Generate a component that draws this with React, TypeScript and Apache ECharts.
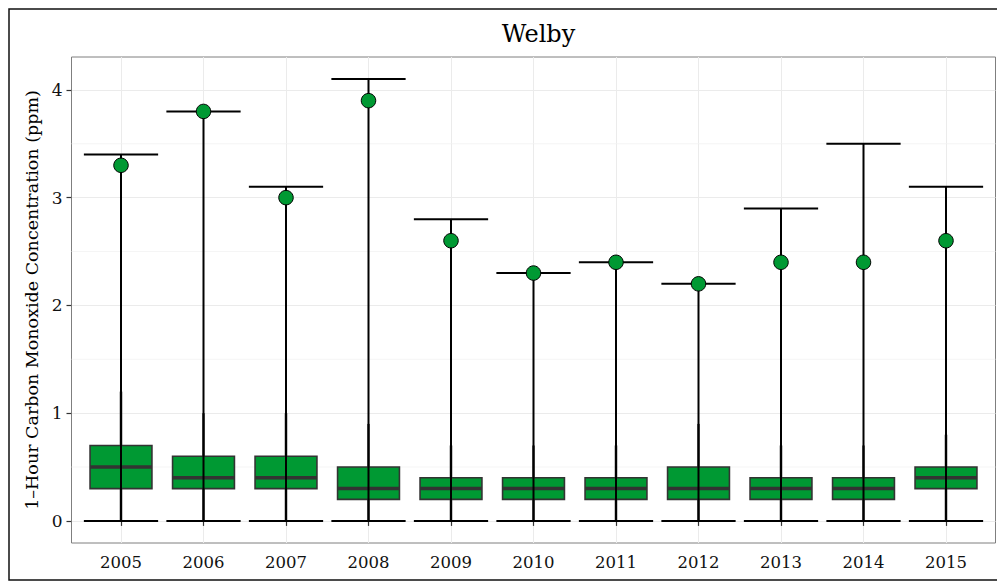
import React, { useEffect, useRef } from "react";
import * as echarts from "echarts";

const years = ["2005", "2006", "2007", "2008", "2009", "2010", "2011", "2012", "2013", "2014", "2015"];
const q1 = [0.3, 0.3, 0.3, 0.2, 0.2, 0.2, 0.2, 0.2, 0.2, 0.2, 0.3];
const medians = [0.5, 0.4, 0.4, 0.3, 0.3, 0.3, 0.3, 0.3, 0.3, 0.3, 0.4];
const q3 = [0.7, 0.6, 0.6, 0.5, 0.4, 0.4, 0.4, 0.5, 0.4, 0.4, 0.5];
const whiskerLow = [0, 0, 0, 0, 0, 0, 0, 0, 0, 0, 0];
const whiskerHigh = [1.2, 1.0, 1.0, 0.9, 0.7, 0.7, 0.7, 0.9, 0.7, 0.7, 0.8];
const minValues = [0, 0, 0, 0, 0, 0, 0, 0, 0, 0, 0];
const maxValues = [3.4, 3.8, 3.1, 4.1, 2.8, 2.3, 2.4, 2.2, 2.9, 3.5, 3.1];
const designValues = [3.3, 3.8, 3.0, 3.9, 2.6, 2.3, 2.4, 2.2, 2.4, 2.4, 2.6];
const yTicks = [0, 1, 2, 3, 4];
const yMinorTicks = [0.5, 1.5, 2.5, 3.5];

const FONT = "DejaVu Serif";
const GREEN = "#009933";

export default function App() {
  const ref = useRef<HTMLDivElement>(null);

  useEffect(() => {
    if (!ref.current) return;
    const chart = echarts.init(ref.current, null, { renderer: "svg" });
    const xPos = years.map((_, i) => i + 1);
    const xMin = 0.4;
    const xMax = years.length + 0.6;

    const boxData = years.map((_, i) => [
      i + 1,
      q1[i],
      medians[i],
      q3[i],
      whiskerLow[i],
      whiskerHigh[i],
      minValues[i],
      maxValues[i],
    ]);

    const option: any = {
      animation: false,
      title: {
        text: "Welby",
        left: 533.5,
        top: 17,
        textAlign: "center",
        textStyle: { fontFamily: FONT, fontSize: 24, fontWeight: "normal", color: "#000" },
      },
      grid: {
        left: 71.5,
        top: 57,
        width: 924,
        height: 486,
        show: true,
        borderColor: "#7f7f7f",
        borderWidth: 1,
        backgroundColor: "#fff",
      },
      xAxis: {
        type: "value",
        min: xMin,
        max: xMax,
        axisLine: { show: false },
        axisTick: {
          show: true,
          customValues: xPos,
          length: 5,
          lineStyle: { color: "#333", width: 1.2 },
        },
        axisLabel: {
          customValues: xPos,
          formatter: (v: number) => years[Math.round(v) - 1] ?? "",
          margin: 11,
          fontFamily: FONT,
          fontSize: 16.5,
          color: "#111",
        },
        splitLine: { show: true, lineStyle: { color: "#ebebeb", width: 1 } },
      },
      yAxis: {
        type: "value",
        min: -0.205,
        max: 4.305,
        name: "1–Hour Carbon Monoxide Concentration (ppm)",
        nameLocation: "middle",
        nameGap: 30,
        nameRotate: 90,
        nameTextStyle: { fontFamily: FONT, fontSize: 17.5, color: "#000" },
        axisLine: { show: false },
        axisTick: {
          show: true,
          customValues: yTicks,
          length: 5,
          lineStyle: { color: "#333", width: 1.2 },
        },
        axisLabel: {
          customValues: yTicks,
          margin: 9,
          fontFamily: FONT,
          fontSize: 17,
          color: "#111",
        },
        splitLine: { show: true, lineStyle: { color: "#ebebeb", width: 1 } },
      },
      graphic: [
        {
          type: "rect",
          shape: { x: 9, y: 9, width: 1000, height: 571 },
          style: { fill: "none", stroke: "#111", lineWidth: 1.5 },
          silent: true,
          z: 100,
        },
      ],
      series: [
        {
          type: "custom",
          name: "minor grid",
          silent: true,
          z: 1,
          data: yMinorTicks.map((v) => [v]),
          renderItem: (params: any, api: any) => {
            const v = api.value(0);
            const a = api.coord([xMin, v]);
            const b = api.coord([xMax, v]);
            return {
              type: "line",
              shape: { x1: a[0], y1: a[1], x2: b[0], y2: b[1] },
              style: { stroke: "#f3f3f3", lineWidth: 0.8 },
            };
          },
        },
        {
          type: "custom",
          name: "boxes",
          z: 2,
          data: boxData,
          renderItem: (params: any, api: any) => {
            const x = api.value(0);
            const unit = api.size([1, 0])[0];
            const c = (y: number) => api.coord([x, y]);
            const pQ1 = c(api.value(1));
            const pMed = c(api.value(2));
            const pQ3 = c(api.value(3));
            const pWL = c(api.value(4));
            const pWH = c(api.value(5));
            const pMin = c(api.value(6));
            const pMax = c(api.value(7));
            const cx = pQ1[0];
            const boxHalf = unit * 0.375;
            const capHalf = unit * 0.45;
            return {
              type: "group",
              children: [
                {
                  type: "line",
                  shape: { x1: cx, y1: pQ3[1], x2: cx, y2: pWH[1] },
                  style: { stroke: "#444", lineWidth: 2.6 },
                },
                {
                  type: "line",
                  shape: { x1: cx, y1: pQ1[1], x2: cx, y2: pWL[1] },
                  style: { stroke: "#444", lineWidth: 2.6 },
                },
                {
                  type: "rect",
                  shape: { x: cx - boxHalf, y: pQ3[1], width: boxHalf * 2, height: pQ1[1] - pQ3[1] },
                  style: { fill: GREEN, stroke: "#333", lineWidth: 1.6 },
                },
                {
                  type: "line",
                  shape: { x1: cx - boxHalf, y1: pMed[1], x2: cx + boxHalf, y2: pMed[1] },
                  style: { stroke: "#333", lineWidth: 3.5 },
                },
                {
                  type: "line",
                  shape: { x1: cx, y1: pMin[1], x2: cx, y2: pMax[1] },
                  style: { stroke: "#000", lineWidth: 2 },
                },
                {
                  type: "line",
                  shape: { x1: cx - capHalf, y1: pMax[1], x2: cx + capHalf, y2: pMax[1] },
                  style: { stroke: "#000", lineWidth: 2 },
                },
                {
                  type: "line",
                  shape: { x1: cx - capHalf, y1: pMin[1], x2: cx + capHalf, y2: pMin[1] },
                  style: { stroke: "#000", lineWidth: 2 },
                },
              ],
            };
          },
        },
        {
          type: "scatter",
          name: "design value",
          z: 3,
          symbol: "circle",
          symbolSize: 14.5,
          data: designValues.map((v, i) => [i + 1, v]),
          itemStyle: { color: GREEN, borderColor: "#000", borderWidth: 1, opacity: 1 },
        },
      ],
    };
    chart.setOption(option);
    return () => chart.dispose();
  }, []);

  return (
    <div
      ref={ref}
      style={{ position: "fixed", left: 0, top: 0, width: 997, height: 581, background: "#fff" }}
    />
  );
}
